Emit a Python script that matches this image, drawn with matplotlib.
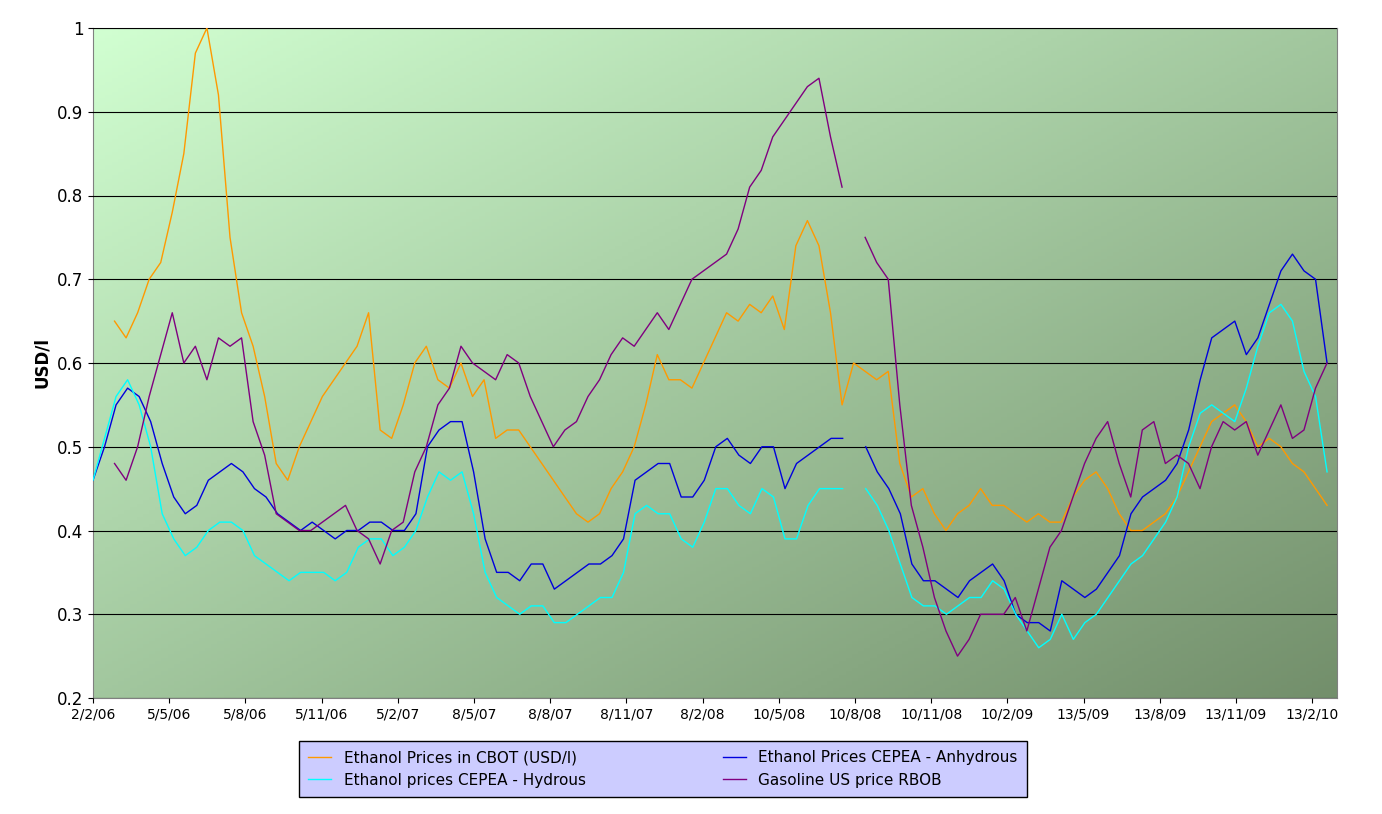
import matplotlib
matplotlib.use('Agg')
import matplotlib.pyplot as plt
import numpy as np
import pandas as pd

nan = np.nan

# CBOT ethanol, roughly every two weeks
cbot_start, cbot_end = '2006-02-28', '2010-03-03'
cbot = [0.65, 0.63, 0.66, 0.70, 0.72, 0.78, 0.85, 0.97, 1.00, 0.92, 0.75, 0.66, 0.62, 0.56, 0.48, 0.46,
        0.50, 0.53, 0.56, 0.58, 0.60, 0.62, 0.66, 0.52, 0.51, 0.55, 0.60, 0.62, 0.58, 0.57, 0.60, 0.56,
        0.58, 0.51, 0.52, 0.52, 0.50, 0.48, 0.46, 0.44, 0.42, 0.41, 0.42, 0.45, 0.47, 0.50, 0.55, 0.61,
        0.58, 0.58, 0.57, 0.60, 0.63, 0.66, 0.65, 0.67, 0.66, 0.68, 0.64, 0.74, 0.77, 0.74, 0.66, 0.55,
        0.60, 0.59, 0.58, 0.59, 0.48, 0.44, 0.45, 0.42, 0.40, 0.42, 0.43, 0.45, 0.43, 0.43, 0.42, 0.41,
        0.42, 0.41, 0.41, 0.44, 0.46, 0.47, 0.45, 0.42, 0.40, 0.40, 0.41, 0.42, 0.44, 0.47, 0.50, 0.53,
        0.54, 0.55, 0.53, 0.50, 0.51, 0.50, 0.48, 0.47, 0.45, 0.43]

rbob = [0.48, 0.46, 0.50, 0.56, 0.61, 0.66, 0.60, 0.62, 0.58, 0.63, 0.62, 0.63, 0.53, 0.49, 0.42, 0.41,
        0.40, 0.40, 0.41, 0.42, 0.43, 0.40, 0.39, 0.36, 0.40, 0.41, 0.47, 0.50, 0.55, 0.57, 0.62, 0.60,
        0.59, 0.58, 0.61, 0.60, 0.56, 0.53, 0.50, 0.52, 0.53, 0.56, 0.58, 0.61, 0.63, 0.62, 0.64, 0.66,
        0.64, 0.67, 0.70, 0.71, 0.72, 0.73, 0.76, 0.81, 0.83, 0.87, 0.89, 0.91, 0.93, 0.94, 0.87, 0.81,
        nan, 0.75, 0.72, 0.70, 0.55, 0.43, 0.38, 0.32, 0.28, 0.25, 0.27, 0.30, 0.30, 0.30, 0.32, 0.28,
        0.33, 0.38, 0.40, 0.44, 0.48, 0.51, 0.53, 0.48, 0.44, 0.52, 0.53, 0.48, 0.49, 0.48, 0.45, 0.50,
        0.53, 0.52, 0.53, 0.49, 0.52, 0.55, 0.51, 0.52, 0.57, 0.60]

# CEPEA series start earlier
cepea_start, cepea_end = '2006-02-02', '2010-03-03'
anhydrous = [0.46, 0.50, 0.55, 0.57, 0.56, 0.53, 0.48, 0.44, 0.42, 0.43, 0.46, 0.47, 0.48, 0.47, 0.45, 0.44,
             0.42, 0.41, 0.40, 0.41, 0.40, 0.39, 0.40, 0.40, 0.41, 0.41, 0.40, 0.40, 0.42, 0.50, 0.52, 0.53,
             0.53, 0.47, 0.39, 0.35, 0.35, 0.34, 0.36, 0.36, 0.33, 0.34, 0.35, 0.36, 0.36, 0.37, 0.39, 0.46,
             0.47, 0.48, 0.48, 0.44, 0.44, 0.46, 0.50, 0.51, 0.49, 0.48, 0.50, 0.50, 0.45, 0.48, 0.49, 0.50,
             0.51, 0.51, nan, 0.50, 0.47, 0.45, 0.42, 0.36, 0.34, 0.34, 0.33, 0.32, 0.34, 0.35, 0.36, 0.34,
             0.30, 0.29, 0.29, 0.28, 0.34, 0.33, 0.32, 0.33, 0.35, 0.37, 0.42, 0.44, 0.45, 0.46, 0.48, 0.52,
             0.58, 0.63, 0.64, 0.65, 0.61, 0.63, 0.67, 0.71, 0.73, 0.71, 0.70, 0.60]
hydrous = [0.46, 0.51, 0.56, 0.58, 0.55, 0.50, 0.42, 0.39, 0.37, 0.38, 0.40, 0.41, 0.41, 0.40, 0.37, 0.36,
           0.35, 0.34, 0.35, 0.35, 0.35, 0.34, 0.35, 0.38, 0.39, 0.39, 0.37, 0.38, 0.40, 0.44, 0.47, 0.46,
           0.47, 0.42, 0.35, 0.32, 0.31, 0.30, 0.31, 0.31, 0.29, 0.29, 0.30, 0.31, 0.32, 0.32, 0.35, 0.42,
           0.43, 0.42, 0.42, 0.39, 0.38, 0.41, 0.45, 0.45, 0.43, 0.42, 0.45, 0.44, 0.39, 0.39, 0.43, 0.45,
           0.45, 0.45, nan, 0.45, 0.43, 0.40, 0.36, 0.32, 0.31, 0.31, 0.30, 0.31, 0.32, 0.32, 0.34, 0.33,
           0.30, 0.28, 0.26, 0.27, 0.30, 0.27, 0.29, 0.30, 0.32, 0.34, 0.36, 0.37, 0.39, 0.41, 0.44, 0.50,
           0.54, 0.55, 0.54, 0.53, 0.57, 0.62, 0.66, 0.67, 0.65, 0.59, 0.56, 0.47]

tick_dates = ['2006-02-02', '2006-05-05', '2006-08-05', '2006-11-05', '2007-02-05', '2007-05-08',
              '2007-08-08', '2007-11-08', '2008-02-08', '2008-05-10', '2008-08-10', '2008-11-10',
              '2009-02-10', '2009-05-13', '2009-08-13', '2009-11-13', '2010-02-13']

d_cbot = pd.date_range(cbot_start, cbot_end, periods=len(cbot))
d_rbob = pd.date_range(cbot_start, cbot_end, periods=len(rbob))
d_anh = pd.date_range(cepea_start, cepea_end, periods=len(anhydrous))
d_hyd = pd.date_range(cepea_start, cepea_end, periods=len(hydrous))

fig = plt.figure(figsize=(13.82, 8.14), dpi=100)
ax = fig.add_axes([93 / 1382, 1 - 698 / 814, 1244 / 1382, 670 / 814])

# diagonal green gradient background
g = np.linspace(0, 1, 200)
gx, gy = np.meshgrid(g, g)
t = (gx + gy) / 2
c0 = np.array([0.82, 1.0, 0.82])
c1 = np.array([0.45, 0.56, 0.42])
img = c0[None, None, :] * (1 - t[..., None]) + c1[None, None, :] * t[..., None]
ax.imshow(img, extent=[0, 1, 0, 1], transform=ax.transAxes, aspect='auto', zorder=0)

l1, = ax.plot(d_cbot, cbot, color='#ff9900', lw=1, label='Ethanol Prices in CBOT (USD/l)', zorder=3)
l2, = ax.plot(d_anh, anhydrous, color='#0000dd', lw=1, label='Ethanol Prices CEPEA - Anhydrous', zorder=3)
l3, = ax.plot(d_hyd, hydrous, color='#00ffff', lw=1, label='Ethanol prices CEPEA - Hydrous', zorder=3)
l4, = ax.plot(d_rbob, rbob, color='#800080', lw=1, label='Gasoline US price RBOB', zorder=3)

ax.set_ylim(0.2, 1.0)
ax.set_yticks([0.2, 0.3, 0.4, 0.5, 0.6, 0.7, 0.8, 0.9, 1.0])
ax.set_yticklabels(['0.2', '0.3', '0.4', '0.5', '0.6', '0.7', '0.8', '0.9', '1'], fontsize=12)
ax.set_xlim(pd.Timestamp('2006-02-02'), pd.Timestamp('2010-03-15'))
ticks = pd.to_datetime(tick_dates)
ax.set_xticks(ticks)
ax.set_xticklabels([f'{d.day}/{d.month}/{d.strftime("%y")}' for d in ticks], fontsize=10)
ax.grid(axis='y', color='black', lw=0.8)
ax.set_axisbelow(False)
ax.set_ylabel('USD/l', fontsize=12, fontweight='bold')
for s in ax.spines.values():
    s.set_color('#808080')

# row-major order like the original legend
leg = fig.legend([l1, l3, l2, l4], [l.get_label() for l in [l1, l3, l2, l4]],
                 loc='center', bbox_to_anchor=(663 / 1382, 1 - 769 / 814), ncol=2, fontsize=11,
                 facecolor='#ccccff', edgecolor='black', framealpha=1, fancybox=False,
                 columnspacing=9, handlelength=1.5, borderpad=0.6)

fig.savefig('out.png', dpi=100)
